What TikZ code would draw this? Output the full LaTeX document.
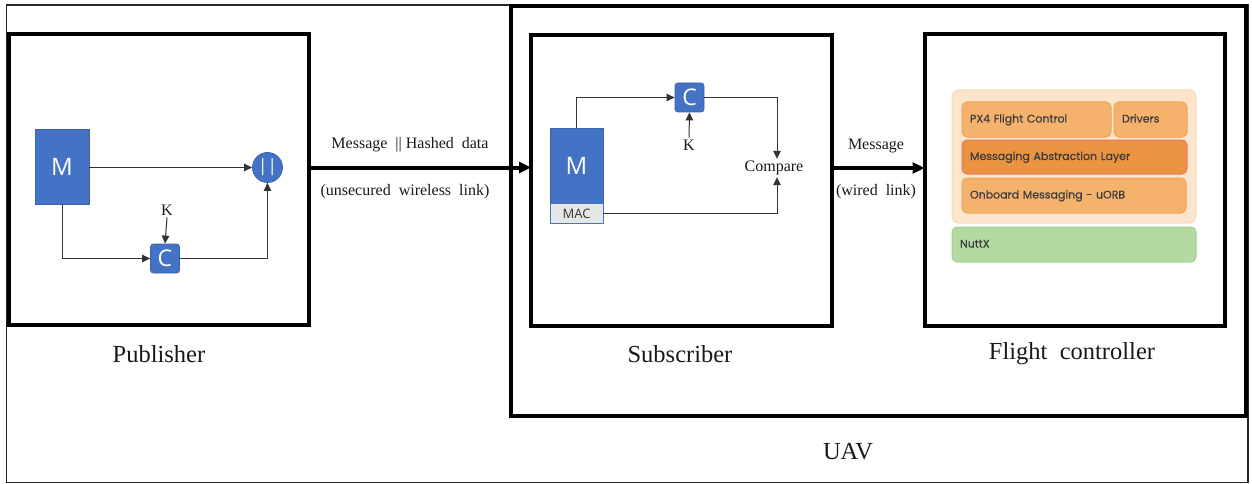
\documentclass[tikz,border=0pt]{standalone}
\usepackage{fontspec}
\setmainfont{Liberation Serif}
\newfontfamily\segoe{Open Sans}
\newfontfamily\pop{Poppins}[FakeBold=0.6]
\usetikzlibrary{arrows.meta}
\definecolor{bl}{HTML}{4472C4}
\definecolor{blb}{HTML}{3A63AD}
\definecolor{macg}{HTML}{E7E6E6}
\definecolor{pnlf}{HTML}{FCE5CD}
\definecolor{pnlb}{HTML}{F9D9B8}
\definecolor{orf}{HTML}{F4B26C}
\definecolor{orb}{HTML}{EFA457}
\definecolor{malf}{HTML}{EA9442}
\definecolor{malb}{HTML}{E6786A}
\definecolor{grf}{HTML}{B4DAA2}
\definecolor{grb}{HTML}{A3D08E}
\definecolor{ptxt}{HTML}{3C3C3C}
\begin{document}
\begin{tikzpicture}[x=1pt,y=-1pt,
  frame/.style={draw=black!85, line width=1.5pt, inner sep=0pt, outer sep=0pt},
  bigbox/.style={draw=black, line width=4pt, inner sep=0pt, outer sep=0pt},
  title/.style={font=\fontsize{24.5}{28}\selectfont, text=black!90},
  txt/.style={font=\fontsize{16}{19}\selectfont, text=black!90, inner sep=2pt},
  mbox/.style={fill=bl, draw=blb, line width=0.8pt, inner sep=0pt, text=white, font=\segoe\fontsize{24}{27}\selectfont},
  macbox/.style={fill=macg, draw=bl, line width=0.8pt, inner sep=0pt, text=black!80, font=\segoe\fontsize{13}{15}\selectfont},
  cbox/.style={fill=bl, draw=blb, line width=0.8pt, rounded corners=3pt, minimum width=29pt, minimum height=29pt, inner sep=0pt, text=white, font=\segoe\fontsize{23}{26}\selectfont},
  circ/.style={circle, fill=bl, draw=blb, line width=0.8pt, minimum size=30pt, inner sep=0pt, text=white, font=\segoe\fontsize{17}{20}\selectfont},
  arr/.style={draw=black!80, line width=1pt, -{Triangle[length=8pt,width=7.5pt]}},
  bigarr/.style={draw=black, line width=4pt, -{Triangle[length=12pt,width=11pt]}},
  layer/.style={rounded corners=5pt, line width=1pt, inner xsep=8pt, inner ysep=0pt, align=left, text=ptxt, font=\pop\fontsize{11}{13}\selectfont, text height=8.5pt, text depth=2.5pt, minimum height=35pt},
  obox/.style={layer, fill=orf, draw=orb},
  malbox/.style={layer, fill=malf, draw=malb},
  nbox/.style={layer, fill=grf, draw=grb},
  panel/.style={rounded corners=7pt, fill=pnlf, draw=pnlb, line width=1pt, inner sep=0pt}
]
\useasboundingbox (0,0) rectangle (1252,484);

% frames
\node[frame, minimum width=1241.5pt, minimum height=477.5pt] (outer) at (627.25,243.75) {};
\node[bigbox, minimum width=735pt, minimum height=409pt] (uav) at (878,211) {};
\node[bigbox, minimum width=300pt, minimum height=290.5pt] (pub) at (159,179.75) {};
\node[bigbox, minimum width=300.5pt, minimum height=290.5pt] (sub) at (681.25,180.25) {};
\node[bigbox, minimum width=300pt, minimum height=291pt] (fc) at (1074.5,180) {};

% titles
\node[title] (publbl) at (159,354) {Publisher};
\node[title] (sublbl) at (680,354) {Subscriber};
\node[title] (fclbl) at (1072,354) {Flight\ \ controller};
\node[title] (uavlbl) at (848,452) {UAV};

% publisher
\node[mbox, minimum width=54pt, minimum height=75pt] (pm) at (62,166.5) {M};
\node[circ] (pcat) at (267.5,167.5) {||};
\node[cbox] (pc) at (165,258.5) {C};
\node[txt] (pk) at (167,210) {K};
\draw[arr] (pm.east |- pcat.west) -- (pcat.west);
\draw[arr] (pm.south) |- (pc.west);
\draw[arr] (pk.south) -- (pc.north);
\draw[arr] (pc.east) -| (pcat.south);

% link 1
\draw[bigarr] (pub.east |- pcat.center) -- (sub.west |- pcat.center);
\node[txt] (l1a) at (410,145) {Message\ \ ||\ Hashed\ \ data};
\node[txt] (l1b) at (405,192) {(unsecured\ \ wireless\ \ link)};

% subscriber
\node[mbox, minimum width=53pt, minimum height=75pt] (sm) at (576.5,165.5) {M};
\node[macbox, minimum width=53pt, minimum height=20pt, anchor=north] (smac) at (sm.south) {MAC};
\node[cbox] (sc) at (689.5,97.5) {C};
\node[txt] (sk) at (689,145) {K};
\node[txt] (cmp) at (774,168) {Compare};
\draw[arr] (sm.north) |- (sc.west);
\draw[arr] (sk.north) -- (sc.south);
\draw[arr] (sc.east) -| ([xshift=3pt]cmp.north);
\draw[arr] (smac.east) -| ([xshift=3pt]cmp.south);

% link 2
\draw[bigarr] (sub.east |- cmp.center) -- (fc.west |- cmp.center);
\node[txt] (l2a) at (876,146) {Message};
\node[txt] (l2b) at (876,192) {(wired\ \ link)};

% flight controller stack
\node[panel, minimum width=244pt, minimum height=133pt] (pnl) at (1074,156.5) {};
\node[obox, text width=133pt] (px4) at (1036.5,119.5) {PX4 Flight Control};
\node[obox, text width=57pt] (drv) at (1150.5,119.5) {Drivers};
\node[malbox, text width=209pt, minimum height=34pt] (mal) at (1074.5,157) {Messaging Abstraction Layer};
\node[obox, text width=208pt] (uorb) at (1074,195.5) {Onboard Messaging - uORB};
\node[nbox, text width=228pt] (nx) at (1074,244.5) {NuttX};
\end{tikzpicture}
\end{document}
